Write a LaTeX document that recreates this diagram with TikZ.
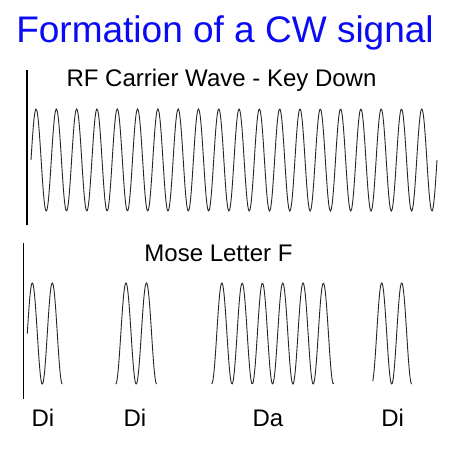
\documentclass[tikz,border=0pt]{standalone}
\usepackage{fontspec}
\setmainfont{Liberation Sans}
\definecolor{titleblue}{RGB}{10,10,245}
\begin{document}
\begin{tikzpicture}[x=1pt,y=-1pt,
    wave/.style={black!85, line width=0.9pt, smooth},
    marker/.style={black, line width=1.2pt},
    caption/.style={font=\fontsize{24}{27}\selectfont, anchor=base}]
  \useasboundingbox[fill=white] (0,0) rectangle (449,449);

  % Title
    \node[font=\fontsize{37}{40}\selectfont, text=titleblue, anchor=base] (title) at (225,43) {Formation of a CW signal};

  % Carrier wave, key down
    \draw[marker] (27,70) -- (27,225);
    \node[caption] (carrier) at (221.5,87) {RF Carrier Wave - Key Down};
    \draw[wave, domain=31:437, samples=500, variable=\x]
      plot ({\x}, {160 - 51*sin((\x-31)*(360/20.3))});

  % Keyed bursts: trough/start/end/period
    \draw[marker] (23.3,243) -- (23.3,399);
    \node[caption] (letter) at (218.5,261) {Mose Letter F};
    \foreach \tz/\xa/\xb/\per in {22.3/27.3/62.3/20, 115.7/115.7/156.7/20.5,
                                  211.7/211.7/334/20.3, 371.7/372.8/411.7/20} {
      \draw[wave, domain=\xa:\xb, samples=120, variable=\x]
        plot ({\x}, {333.5 + 50.5*cos((\x-\tz)*(360/\per))});
    }

  % Labels under the bursts
    \node[caption] (di1) at (43,426) {Di};
    \node[caption] (di2) at (135,426) {Di};
    \node[caption] (da)  at (268,426) {Da};
    \node[caption] (di3) at (392.7,426) {Di};

\end{tikzpicture}
\end{document}
